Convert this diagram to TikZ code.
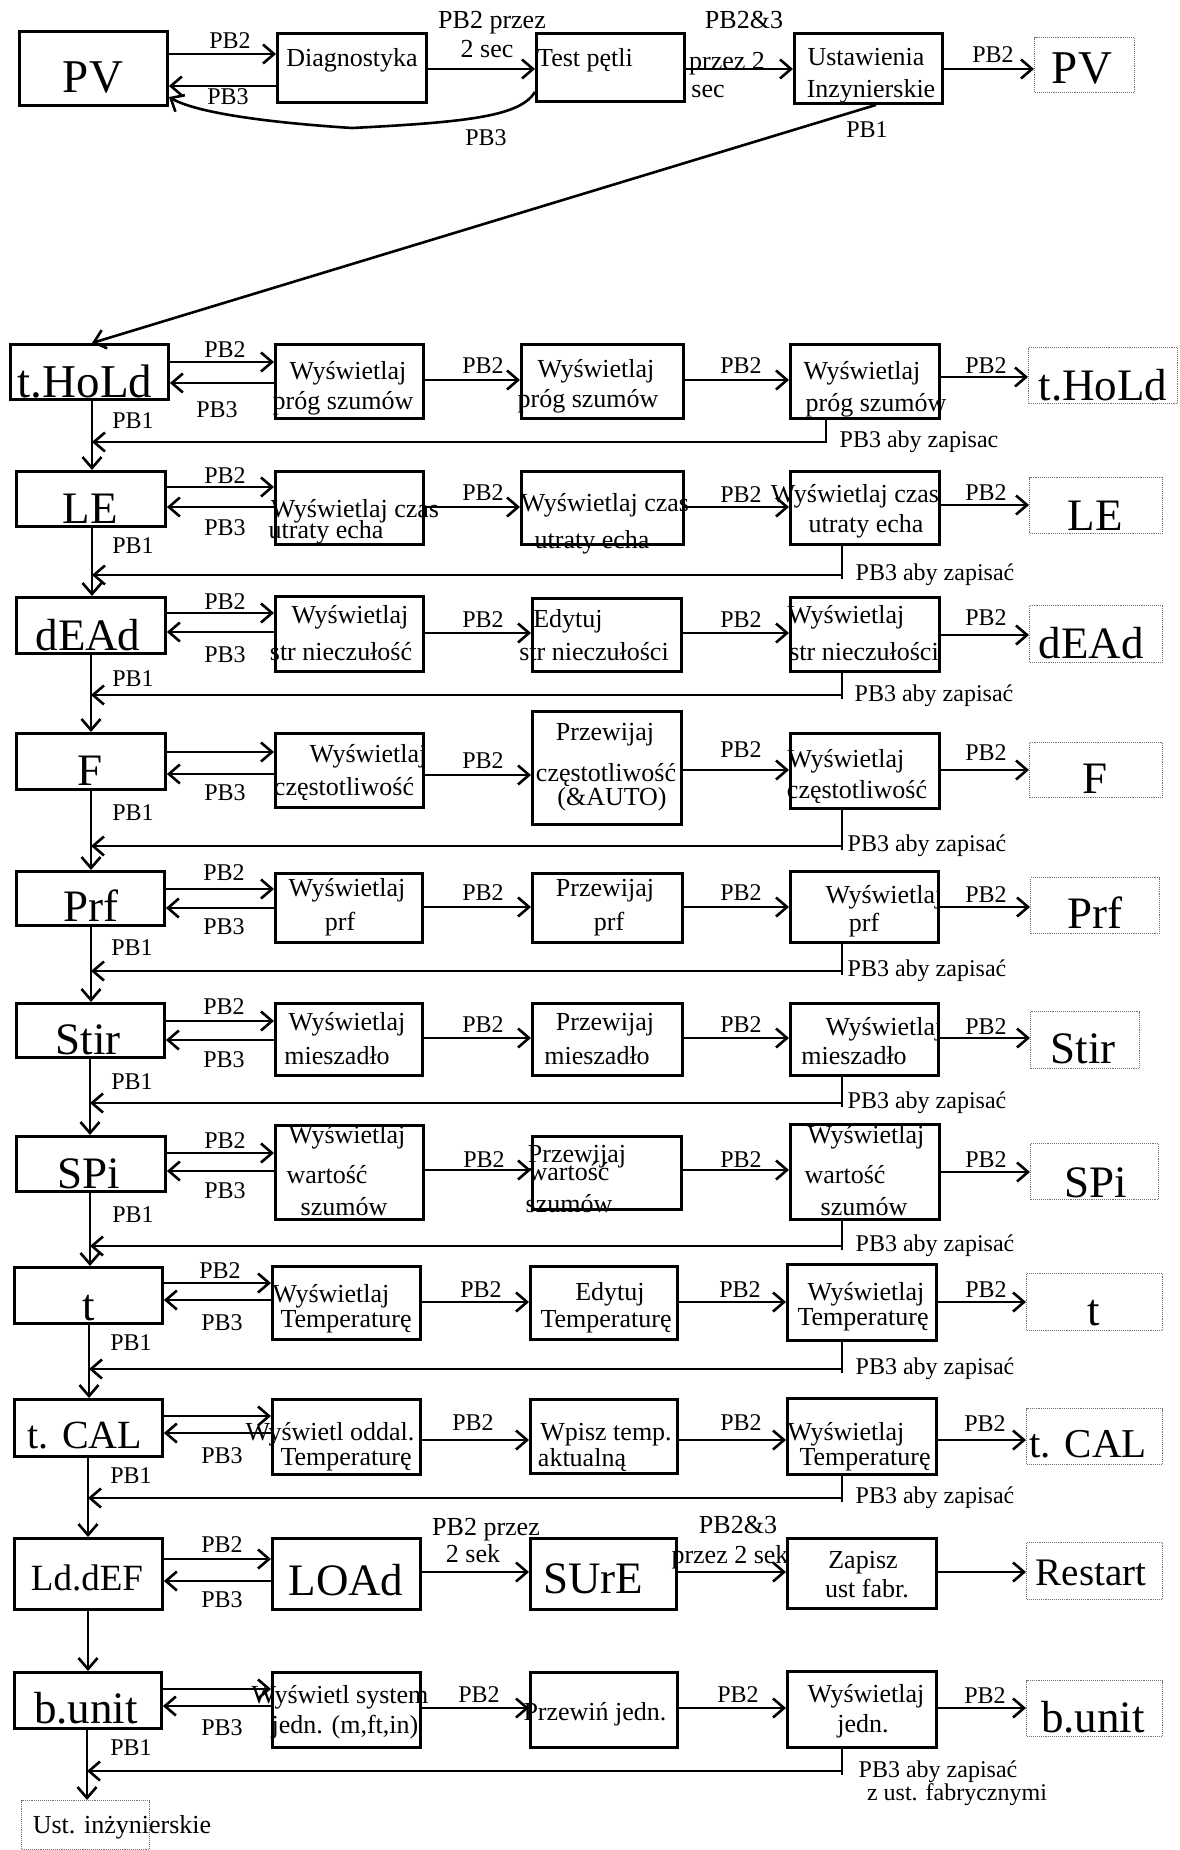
\documentclass[tikz,border=0pt]{standalone}
\usepackage{fontspec}
\setmainfont{Liberation Serif}
\usetikzlibrary{arrows.meta}
\newcommand\bx[6]{\node[#6,minimum width={(#4)-(#2)},minimum height={(#5)-(#3)},anchor=north west] (#1) at (#2,#3) {};}
\begin{document}
\begin{tikzpicture}[x=1pt,y=-1pt,
  box/.style={draw,line width=2.9pt,inner sep=0pt},
  dbox/.style={draw=black!55,densely dotted,line width=1.1pt,inner sep=0pt},
  arr/.style={line width=2.6pt,-{Straight Barb[length=11pt,width=19pt]}},
  ln/.style={line width=2.6pt},
  pb/.style={font=\fontsize{24}{28}\selectfont,inner sep=0pt,anchor=base},
  tb/.style={font=\fontsize{26}{30}\selectfont,inner sep=0pt,anchor=base},
  big/.style={font=\fontsize{45}{50}\selectfont,inner sep=0pt,anchor=base},
]
\useasboundingbox (0,0) rectangle (1179,1850);
\fill[white] (0,0) rectangle (1179,1850);

% ---------- top row ----------
\bx{pv}{18}{30}{166}{104}{box}
\bx{diag}{276}{32}{425}{101}{box}
\bx{test}{535}{32}{683}{100}{box}
\bx{ust}{793}{32}{941}{102}{box}
\bx{pvd}{1034}{37}{1134}{92}{dbox}
\node[big,font=\fontsize{47}{52}\selectfont] (tpv) at (93,92) {PV};
\node[tb] (tdiag) at (352,66) {Diagnostyka};
\node[tb] (ttest) at (585,66) {Test pętli};
\node[tb] (tust1) at (866,65) {Ustawienia};
\node[tb] (tust2) at (871,97) {Inzynierskie};
\node[big,font=\fontsize{47}{52}\selectfont] (tpvd) at (1082,83) {PV};
\draw[arr] (pv.east |- 0,54) -- (diag.west |- 0,54);
\draw[arr] (diag.west |- 0,86) -- (pv.east |- 0,86);
\node[pb] (l0a) at (230,48) {PB2};
\node[pb] (l0b) at (228,104) {PB3};
\draw[arr] (diag.east |- 0,69) -- (test.west |- 0,69);
\node[tb] (l0c) at (492,28) {PB2 przez};
\node[tb] (l0d) at (487,57) {2 sec};
\draw[arr] (test.west |- 0,92) .. controls (520,116) and (470,122) .. (352,128) .. controls (260,122) and (195,112) .. (pv.east |- 0,97);
\node[pb] (l0e) at (486,145) {PB3};
\draw[arr] (test.east |- 0,69) -- (ust.west |- 0,69);
\node[tb] (l0f) at (744,28) {PB2\&3};
\node[tb] (l0g) at (727,69) {przez 2};
\node[tb] (l0h) at (708,97) {sec};
\draw[arr] (ust.east |- 0,69) -- (pvd.west |- 0,69);
\node[pb] (l0i) at (993,62) {PB2};
\coordinate (vtop) at (92,0);
\draw[arr] (ust.south -| 876,0) -- (vtop |- 0,343);
\node[pb] (l0j) at (867,137) {PB1};

% ---------- row 1: t.HoLd ----------
\bx{m1}{9}{343}{167}{398}{box}
\bx{a1}{274}{343}{422}{417}{box}
\bx{b1}{520}{343}{682}{417}{box}
\bx{c1}{789}{343}{938}{417}{box}
\bx{d1}{1028}{347}{1177}{403}{dbox}
\draw[arr] (m1.east |- 0,362) -- (a1.west |- 0,362);
\draw[arr] (a1.west |- 0,383) -- (m1.east |- 0,383);
\draw[arr] (a1.east |- 0,380) -- (b1.west |- 0,380);
\draw[arr] (b1.east |- 0,380) -- (c1.west |- 0,380);
\draw[arr] (c1.east |- 0,377) -- (d1.west |- 0,377);
\coordinate (r1) at (92,442);
\draw[arr] (c1.south -| 826,0) |- (r1);
\node[big,font=\fontsize{47}{52}\selectfont] (t1m) at (85,397) {t.HoLd};
\node[pb] (l1a) at (225,357) {PB2};
\node[pb] (l1b) at (217,417) {PB3};
\node[pb] (l1c) at (133,428) {PB1};
\node[tb] (t1a) at (348,379) {Wyświetlaj};
\node[tb] (t1b) at (343,409) {próg szumów};
\node[pb] (l1d) at (483,373) {PB2};
\node[tb] (t1c) at (596,377) {Wyświetlaj};
\node[tb] (t1d) at (588,407) {próg szumów};
\node[pb] (l1e) at (741,373) {PB2};
\node[tb] (t1e) at (862,379) {Wyświetlaj};
\node[tb] (t1f) at (876,411) {próg szumów};
\node[pb] (l1f) at (986,373) {PB2};
\node[big] (t1g) at (1103,400) {t.HoLd};
\node[pb] (l1g) at (919,447) {PB3 aby zapisac};

% ---------- row 2: LE ----------
\bx{m2}{15}{470}{164}{525}{box}
\bx{a2}{274}{470}{422}{543}{box}
\bx{b2}{520}{470}{682}{543}{box}
\bx{c2}{789}{470}{938}{543}{box}
\bx{d2}{1029}{477}{1162}{533}{dbox}
\draw[arr] (m1.south -| vtop) -- (m2.north -| vtop);
\draw[arr] (m2.east |- 0,487) -- (a2.west |- 0,487);
\draw[arr] (a2.west |- 0,507) -- (m2.east |- 0,507);
\draw[arr] (a2.east |- 0,507) -- (b2.west |- 0,507);
\draw[arr] (b2.east |- 0,507) -- (c2.west |- 0,507);
\draw[arr] (c2.east |- 0,505) -- (d2.west |- 0,505);
\coordinate (r2) at (92,575);
\draw[arr] (c2.south -| 842,0) |- (r2);
\draw[ln] (r2 -| 842,0) -- ++(0,4);
\node[big] (t2m) at (90,523) {LE};
\node[pb] (l2a) at (225,483) {PB2};
\node[pb] (l2b) at (225,535) {PB3};
\node[pb] (l2c) at (133,553) {PB1};
\node[tb] (t2a) at (355,517) {Wyświetlaj czas};
\node[tb] (t2b) at (326,538) {utraty echa};
\node[pb] (l2d) at (483,500) {PB2};
\node[tb] (t2c) at (605,511) {Wyświetlaj czas};
\node[tb] (t2d) at (592,548) {utraty echa};
\node[pb] (l2e) at (741,502) {PB2};
\node[tb] (t2e) at (855,502) {Wyświetlaj czas};
\node[tb] (t2f) at (866,532) {utraty echa};
\node[pb] (l2f) at (986,500) {PB2};
\node[big] (t2g) at (1095,530) {LE};
\node[pb] (l2g) at (935,580) {PB3 aby zapisać};

% ---------- row 3: dEAd ----------
\bx{m3}{15}{596}{164}{652}{box}
\bx{a3}{274}{595}{422}{670}{box}
\bx{b3}{531}{597}{680}{670}{box}
\bx{c3}{789}{596}{938}{670}{box}
\bx{d3}{1029}{605}{1162}{662}{dbox}
\draw[arr] (m2.south -| vtop) -- (m3.north -| vtop);
\draw[arr] (m3.east |- 0,613) -- (a3.west |- 0,613);
\draw[arr] (a3.west |- 0,632) -- (m3.east |- 0,632);
\draw[arr] (a3.east |- 0,633) -- (b3.west |- 0,633);
\draw[arr] (b3.east |- 0,633) -- (c3.west |- 0,633);
\draw[arr] (c3.east |- 0,635) -- (d3.west |- 0,635);
\coordinate (r3) at (91,695);
\draw[arr] (c3.south -| 842,0) |- (r3);
\draw[ln] (r3 -| 842,0) -- ++(0,4);
\node[big] (t3m) at (88,650) {dEAd};
\node[pb] (l3a) at (225,609) {PB2};
\node[pb] (l3b) at (225,662) {PB3};
\node[pb] (l3c) at (133,686) {PB1};
\node[tb] (t3a) at (350,623) {Wyświetlaj};
\node[tb] (t3b) at (341,660) {str nieczułość};
\node[pb] (l3d) at (483,627) {PB2};
\node[tb] (t3c) at (568,627) {Edytuj};
\node[tb] (t3d) at (594,660) {str nieczułości};
\node[pb] (l3e) at (741,627) {PB2};
\node[tb] (t3e) at (846,623) {Wyświetlaj};
\node[tb] (t3f) at (864,660) {str nieczułości};
\node[pb] (l3f) at (986,625) {PB2};
\node[big] (t3g) at (1091,658) {dEAd};
\node[pb] (l3g) at (934,701) {PB3 aby zapisać};

% ---------- row 4: F ----------
\bx{m4}{15}{732}{164}{788}{box}
\bx{a4}{274}{732}{422}{806}{box}
\bx{b4}{531}{710}{680}{823}{box}
\bx{c4}{789}{732}{938}{807}{box}
\bx{d4}{1029}{742}{1162}{797}{dbox}
\draw[arr] (m3.south -| 91,0) -- (m4.north -| 91,0);
\draw[arr] (m4.east |- 0,752) -- (a4.west |- 0,752);
\draw[arr] (a4.west |- 0,774) -- (m4.east |- 0,774);
\draw[arr] (a4.east |- 0,775) -- (b4.west |- 0,775);
\draw[arr] (b4.east |- 0,770) -- (c4.west |- 0,770);
\draw[arr] (c4.east |- 0,770) -- (d4.west |- 0,770);
\coordinate (r4) at (91,846);
\draw[arr] (c4.south -| 842,0) |- (r4);
\draw[ln] (r4 -| 842,0) -- ++(0,4);
\node[big] (t4m) at (90,785) {F};
\node[pb] (l4b) at (225,800) {PB3};
\node[pb] (l4c) at (133,820) {PB1};
\node[tb] (t4a) at (368,762) {Wyświetlaj};
\node[tb] (t4b) at (344,795) {częstotliwość};
\node[pb] (l4d) at (483,768) {PB2};
\node[tb] (t4c) at (605,740) {Przewijaj};
\node[tb] (t4d) at (606,781) {częstotliwość};
\node[tb] (t4e) at (612,805) {(\&AUTO)};
\node[pb] (l4e) at (741,757) {PB2};
\node[tb] (t4f) at (846,767) {Wyświetlaj};
\node[tb] (t4g) at (857,798) {częstotliwość};
\node[pb] (l4f) at (986,760) {PB2};
\node[big] (t4h) at (1095,793) {F};
\node[pb] (l4g) at (927,851) {PB3 aby zapisać};

% ---------- row 5: Prf ----------
\bx{m5}{15}{870}{163}{924}{box}
\bx{a5}{274}{872}{421}{941}{box}
\bx{b5}{531}{872}{681}{941}{box}
\bx{c5}{789}{870}{937}{941}{box}
\bx{d5}{1030}{877}{1159}{933}{dbox}
\draw[arr] (m4.south -| 91,0) -- (m5.north -| 91,0);
\draw[arr] (m5.east |- 0,889) -- (a5.west |- 0,889);
\draw[arr] (a5.west |- 0,908) -- (m5.east |- 0,908);
\draw[arr] (a5.east |- 0,907) -- (b5.west |- 0,907);
\draw[arr] (b5.east |- 0,907) -- (c5.west |- 0,907);
\draw[arr] (c5.east |- 0,907) -- (d5.west |- 0,907);
\coordinate (r5) at (91,971);
\draw[arr] (c5.south -| 842,0) |- (r5);
\draw[ln] (r5 -| 842,0) -- ++(0,4);
\node[big] (t5m) at (91,921) {Prf};
\node[pb] (l5a) at (224,880) {PB2};
\node[pb] (l5b) at (224,934) {PB3};
\node[pb] (l5c) at (132,955) {PB1};
\node[tb] (t5a) at (347,896) {Wyświetlaj};
\node[tb] (t5b) at (340,930) {prf};
\node[pb] (l5d) at (483,900) {PB2};
\node[tb] (t5c) at (605,896) {Przewijaj};
\node[tb] (t5d) at (609,930) {prf};
\node[pb] (l5e) at (741,900) {PB2};
\node[tb] (t5e) at (884,903) {Wyświetlaj};
\node[tb] (t5f) at (864,931) {prf};
\node[pb] (l5f) at (986,902) {PB2};
\node[big] (t5g) at (1095,928) {Prf};
\node[pb] (l5g) at (927,976) {PB3 aby zapisać};

% ---------- row 6: Stir ----------
\bx{m6}{15}{1002}{163}{1056}{box}
\bx{a6}{274}{1002}{421}{1074}{box}
\bx{b6}{531}{1002}{681}{1074}{box}
\bx{c6}{789}{1002}{937}{1074}{box}
\bx{d6}{1030}{1011}{1139}{1068}{dbox}
\draw[arr] (m5.south -| 91,0) -- (m6.north -| 91,0);
\draw[arr] (m6.east |- 0,1021) -- (a6.west |- 0,1021);
\draw[arr] (a6.west |- 0,1040) -- (m6.east |- 0,1040);
\draw[arr] (a6.east |- 0,1038) -- (b6.west |- 0,1038);
\draw[arr] (b6.east |- 0,1038) -- (c6.west |- 0,1038);
\draw[arr] (c6.east |- 0,1038) -- (d6.west |- 0,1038);
\coordinate (r6) at (90,1103);
\draw[arr] (c6.south -| 842,0) |- (r6);
\draw[ln] (r6 -| 842,0) -- ++(0,4);
\node[big] (t6m) at (88,1054) {Stir};
\node[pb] (l6a) at (224,1014) {PB2};
\node[pb] (l6b) at (224,1067) {PB3};
\node[pb] (l6c) at (132,1089) {PB1};
\node[tb] (t6a) at (347,1030) {Wyświetlaj};
\node[tb] (t6b) at (337,1064) {mieszadło};
\node[pb] (l6d) at (483,1032) {PB2};
\node[tb] (t6c) at (605,1030) {Przewijaj};
\node[tb] (t6d) at (597,1064) {mieszadło};
\node[pb] (l6e) at (741,1032) {PB2};
\node[tb] (t6e) at (884,1035) {Wyświetlaj};
\node[tb] (t6f) at (854,1064) {mieszadło};
\node[pb] (l6f) at (986,1034) {PB2};
\node[big] (t6g) at (1083,1063) {Stir};
\node[pb] (l6g) at (927,1108) {PB3 aby zapisać};

% ---------- row 7: SPi ----------
\bx{m7}{15}{1135}{164}{1190}{box}
\bx{a7}{274}{1124}{422}{1218}{box}
\bx{b7}{531}{1135}{680}{1208}{box}
\bx{c7}{789}{1123}{938}{1218}{box}
\bx{d7}{1030}{1143}{1158}{1199}{dbox}
\draw[arr] (m6.south -| 90,0) -- (m7.north -| 90,0);
\draw[arr] (m7.east |- 0,1153) -- (a7.west |- 0,1153);
\draw[arr] (a7.west |- 0,1171) -- (m7.east |- 0,1171);
\draw[arr] (a7.east |- 0,1170) -- (b7.west |- 0,1170);
\draw[arr] (b7.east |- 0,1170) -- (c7.west |- 0,1170);
\draw[arr] (c7.east |- 0,1172) -- (d7.west |- 0,1172);
\coordinate (r7) at (90,1246);
\draw[arr] (c7.south -| 842,0) |- (r7);
\draw[ln] (r7 -| 842,0) -- ++(0,4);
\node[big] (t7m) at (89,1188) {SPi};
\node[pb] (l7a) at (225,1148) {PB2};
\node[pb] (l7b) at (225,1198) {PB3};
\node[pb] (l7c) at (133,1222) {PB1};
\node[tb] (t7a) at (347,1143) {Wyświetlaj};
\node[tb] (t7b) at (327,1183) {wartość};
\node[tb] (t7c) at (344,1215) {szumów};
\node[pb] (l7d) at (484,1167) {PB2};
\node[tb] (t7d) at (577,1162) {Przewijaj};
\node[tb] (t7e) at (569,1180) {wartość};
\node[tb] (t7f) at (569,1212) {szumów};
\node[pb] (l7e) at (741,1167) {PB2};
\node[tb] (t7g) at (866,1143) {Wyświetlaj};
\node[tb] (t7h) at (845,1183) {wartość};
\node[tb] (t7i) at (864,1215) {szumów};
\node[pb] (l7f) at (986,1167) {PB2};
\node[big] (t7j) at (1096,1197) {SPi};
\node[pb] (l7g) at (935,1251) {PB3 aby zapisać};

% ---------- row 8: t ----------
\bx{m8}{13}{1266}{161}{1322}{box}
\bx{a8}{271}{1265}{419}{1338}{box}
\bx{b8}{529}{1265}{676}{1338}{box}
\bx{c8}{786}{1263}{935}{1339}{box}
\bx{d8}{1026}{1273}{1162}{1330}{dbox}
\draw[arr] (m7.south -| 90,0) -- (m8.north -| 90,0);
\draw[arr] (m8.east |- 0,1283) -- (a8.west |- 0,1283);
\draw[arr] (a8.west |- 0,1300) -- (m8.east |- 0,1300);
\draw[arr] (a8.east |- 0,1302) -- (b8.west |- 0,1302);
\draw[arr] (b8.east |- 0,1302) -- (c8.west |- 0,1302);
\draw[arr] (c8.east |- 0,1302) -- (d8.west |- 0,1302);
\coordinate (r8) at (89,1369);
\draw[arr] (c8.south -| 842,0) |- (r8);
\draw[ln] (r8 -| 842,0) -- ++(0,4);
\node[big] (t8m) at (89,1320) {t};
\node[pb] (l8a) at (220,1278) {PB2};
\node[pb] (l8b) at (222,1330) {PB3};
\node[pb] (l8c) at (131,1350) {PB1};
\node[tb] (t8a) at (331,1302) {Wyświetlaj};
\node[tb] (t8b) at (346,1327) {Temperaturę};
\node[pb] (l8d) at (481,1297) {PB2};
\node[tb] (t8c) at (610,1300) {Edytuj};
\node[tb] (t8d) at (606,1327) {Temperaturę};
\node[pb] (l8e) at (740,1297) {PB2};
\node[tb] (t8e) at (866,1300) {Wyświetlaj};
\node[tb] (t8f) at (863,1325) {Temperaturę};
\node[pb] (l8f) at (986,1297) {PB2};
\node[big] (t8g) at (1094,1325) {t};
\node[pb] (l8g) at (935,1374) {PB3 aby zapisać};

% ---------- row 9: t. CAL ----------
\bx{m9}{13}{1398}{161}{1455}{box}
\bx{a9}{271}{1398}{419}{1473}{box}
\bx{b9}{529}{1398}{676}{1472}{box}
\bx{c9}{786}{1397}{935}{1473}{box}
\bx{d9}{1026}{1408}{1162}{1464}{dbox}
\draw[arr] (m8.south -| 89,0) -- (m9.north -| 89,0);
\draw[arr] (m9.east |- 0,1416) -- (a9.west |- 0,1416);
\draw[arr] (a9.west |- 0,1433) -- (m9.east |- 0,1433);
\draw[arr] (a9.east |- 0,1440) -- (b9.west |- 0,1440);
\draw[arr] (b9.east |- 0,1440) -- (c9.west |- 0,1440);
\draw[arr] (c9.east |- 0,1440) -- (d9.west |- 0,1440);
\coordinate (r9) at (88,1498);
\draw[arr] (c9.south -| 842,0) |- (r9);
\draw[ln] (r9 -| 842,0) -- ++(0,4);
\node[big,font=\fontsize{40}{46}\selectfont] (t9m) at (85,1448) {t. CAL};
\node[pb] (l9b) at (222,1463) {PB3};
\node[pb] (l9c) at (131,1483) {PB1};
\node[tb] (t9a) at (330,1440) {Wyświetl oddal.};
\node[tb] (t9b) at (346,1465) {Temperaturę};
\node[pb] (l9d) at (473,1430) {PB2};
\node[tb] (t9c) at (606,1440) {Wpisz temp.};
\node[tb] (t9d) at (582,1466) {aktualną};
\node[pb] (l9e) at (741,1430) {PB2};
\node[tb] (t9e) at (846,1440) {Wyświetlaj};
\node[tb] (t9f) at (865,1465) {Temperaturę};
\node[pb] (l9f) at (985,1431) {PB2};
\node[big,font=\fontsize{41}{46}\selectfont] (t9g) at (1088,1457) {t. CAL};
\node[pb] (l9g) at (935,1503) {PB3 aby zapisać};

% ---------- row 10: Ld.dEF ----------
\bx{m10}{13}{1537}{161}{1608}{box}
\bx{a10}{271}{1537}{419}{1608}{box}
\bx{b10}{529}{1537}{675}{1608}{box}
\bx{c10}{786}{1537}{935}{1607}{box}
\bx{d10}{1026}{1542}{1162}{1599}{dbox}
\draw[arr] (m9.south -| 88,0) -- (m10.north -| 88,0);
\draw[arr] (m10.east |- 0,1559) -- (a10.west |- 0,1559);
\draw[arr] (a10.west |- 0,1581) -- (m10.east |- 0,1581);
\draw[arr] (a10.east |- 0,1572) -- (b10.west |- 0,1572);
\draw[arr] (b10.east |- 0,1572) -- (c10.west |- 0,1572);
\draw[arr] (c10.east |- 0,1572) -- (d10.west |- 0,1572);
\node[big,font=\fontsize{37}{42}\selectfont] (t10m) at (87,1590) {Ld.dEF};
\node[pb] (l10a) at (222,1552) {PB2};
\node[pb] (l10b) at (222,1607) {PB3};
\node[big] (t10a) at (346,1595) {LOAd};
\node[tb] (l10c) at (486,1535) {PB2 przez};
\node[tb] (l10d) at (473,1562) {2 sek};
\node[big] (t10b) at (593,1593) {SUrE};
\node[tb] (l10e) at (738,1533) {PB2\&3};
\node[tb] (l10f) at (730,1563) {przez 2 sek};
\node[tb] (t10c) at (863,1568) {Zapisz};
\node[tb] (t10d) at (867,1597) {ust fabr.};
\node[big,font=\fontsize{39}{44}\selectfont] (t10e) at (1091,1585) {Restart};

% ---------- row 11: b.unit ----------
\bx{m11}{13}{1671}{160}{1727}{box}
\bx{a11}{271}{1671}{419}{1746}{box}
\bx{b11}{529}{1671}{676}{1746}{box}
\bx{c11}{786}{1670}{935}{1746}{box}
\bx{d11}{1026}{1680}{1162}{1736}{dbox}
\bx{ue}{21}{1800}{149}{1849}{dbox}
\draw[arr] (m10.south -| 88,0) -- (m11.north -| 88,0);
\draw[arr] (m11.east |- 0,1689) -- (a11.west |- 0,1689);
\draw[arr] (a11.west |- 0,1706) -- (m11.east |- 0,1706);
\draw[arr] (a11.east |- 0,1708) -- (b11.west |- 0,1708);
\draw[arr] (b11.east |- 0,1708) -- (c11.west |- 0,1708);
\draw[arr] (c11.east |- 0,1708) -- (d11.west |- 0,1708);
\coordinate (r11) at (87,1771);
\draw[arr] (c11.south -| 842,0) |- (r11);
\draw[ln] (r11 -| 842,0) -- ++(0,4);
\draw[arr] (m11.south -| 87,0) -- (ue.north -| 87,0);
\node[big] (t11m) at (86,1723) {b.unit};
\node[pb] (l11b) at (222,1735) {PB3};
\node[pb] (l11c) at (131,1755) {PB1};
\node[tb] (t11a) at (340,1703) {Wyświetl system};
\node[tb] (t11b) at (345,1733) {jedn. (m,ft,in)};
\node[pb] (l11d) at (479,1702) {PB2};
\node[tb] (t11c) at (595,1720) {Przewiń jedn.};
\node[pb] (l11e) at (738,1702) {PB2};
\node[tb] (t11d) at (866,1702) {Wyświetlaj};
\node[tb] (t11e) at (863,1732) {jedn.};
\node[pb] (l11f) at (985,1703) {PB2};
\node[big] (t11f) at (1093,1732) {b.unit};
\node[pb] (l11g) at (938,1777) {PB3 aby zapisać};
\node[pb] (l11h) at (957,1800) {z ust. fabrycznymi};
\node[tb] (t11g) at (122,1833) {Ust. inżynierskie};
\end{tikzpicture}
\end{document}
